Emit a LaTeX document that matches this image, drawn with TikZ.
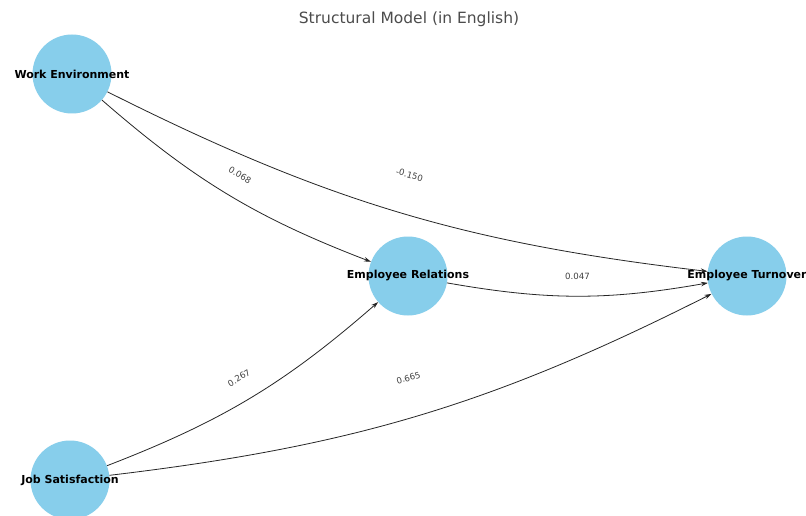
\documentclass[tikz,border=0pt]{standalone}
\usepackage{fontspec}
\setmainfont{DejaVu Sans}
\usetikzlibrary{arrows.meta}
\definecolor{skyb}{HTML}{87CEEB}
\definecolor{titlegray}{rgb}{0.3,0.3,0.3}
\definecolor{edgec}{rgb}{0.15,0.15,0.15}
\begin{document}
\begin{tikzpicture}[x=1pt,y=1pt,
  latent/.style={circle,fill=skyb,draw=none,minimum size=79pt,inner sep=0pt},
  ntext/.style={font=\fontsize{11}{13}\selectfont\bfseries,text=black,inner sep=0pt},
  conn/.style={draw=edgec,line width=0.8pt,-{Stealth[length=7pt,width=4.5pt]},bend right=10},
  elabel/.style={font=\fontsize{8.6}{10}\selectfont,text=black!75,fill=white,inner sep=1.5pt,rounded corners=2pt,sloped,midway}]
\useasboundingbox (0,0) rectangle (806,515);
\fill[white] (0,0) rectangle (806,515);
\node[font=\fontsize{15.5}{18}\selectfont,text=titlegray] (title) at (409,496) {Structural Model (in English)};
\node[latent] (we) at (72,441) {};
\node[latent] (er) at (408,239) {};
\node[latent] (et) at (747,239) {};
\node[latent] (js) at (70,35) {};
\draw[conn] (we) to (er);
\draw[conn] (we) to (et);
\draw[conn] (er) to (et);
\draw[conn] (js) to (er);
\draw[conn] (js) to (et);
\path (we) -- node[elabel] {0.068} (er);
\path (we) -- node[elabel] {-0.150} (et);
\path (er) -- node[elabel] {0.047} (et);
\path (js) -- node[elabel] {0.267} (er);
\path (js) -- node[elabel] {0.665} (et);
\node[ntext] (weT) at (we) {Work Environment};
\node[ntext] (erT) at (er) {Employee Relations};
\node[ntext] (etT) at (et) {Employee Turnover};
\node[ntext] (jsT) at (js) {Job Satisfaction};
\end{tikzpicture}
\end{document}
